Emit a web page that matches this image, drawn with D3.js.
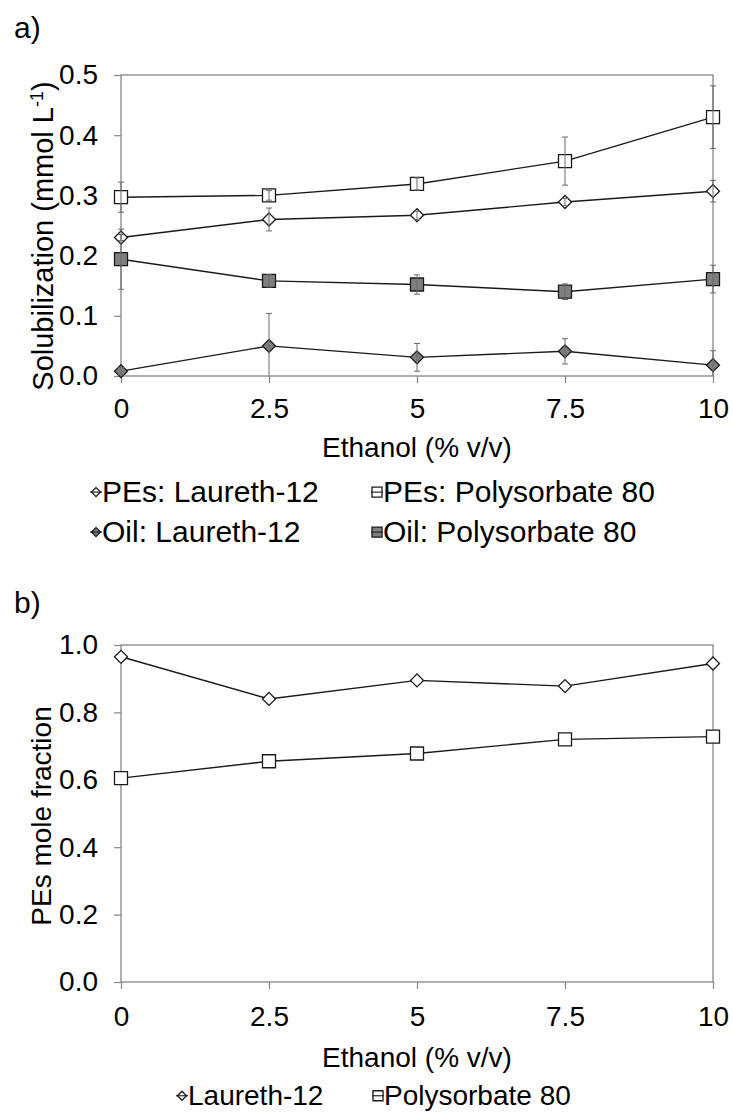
<!DOCTYPE html>
<html>
<head>
<meta charset="utf-8">
<script src="https://cdn.jsdelivr.net/npm/d3@7"></script>
<style>
body { margin: 0; background: #fff; }
text { font-family: Arial, "Liberation Sans", sans-serif; fill: #000; }
</style>
</head>
<body>
<script>
// page size
var width = 733,
	height = 1113;

// x values and tick labels (shared by both panels)
var ethanol = [0, 2.5, 5, 7.5, 10];
var xTickLabels = ["0", "2.5", "5", "7.5", "10"];

// panel a: solubilization (mmol/L) with error bars
var pesLaureth = [0.230, 0.260, 0.267, 0.289, 0.307];
var pesLaurethErr = [0.005, 0.019, 0.007, 0.006, 0.018];
var pesPolysorbate = [0.297, 0.300, 0.319, 0.357, 0.430];
var pesPolysorbateErr = [0.025, 0.008, 0.010, 0.040, 0.052];
var oilLaureth = [0.008, 0.050, 0.031, 0.041, 0.018];
var oilLaurethErr = [0.006, 0.054, 0.023, 0.021, 0.024];
var oilPolysorbate = [0.194, 0.158, 0.152, 0.140, 0.161];
var oilPolysorbateErr = [0.050, 0.010, 0.016, 0.013, 0.023];
var yTicksA = [0, 0.1, 0.2, 0.3, 0.4, 0.5];

// panel b: PEs mole fraction
var fracLaureth = [0.965, 0.840, 0.895, 0.878, 0.945];
var fracPolysorbate = [0.605, 0.655, 0.678, 0.720, 0.728];
var yTicksB = [0, 0.2, 0.4, 0.6, 0.8, 1.0];

var frameColor = '#868686',
	lineColor = '#1a1a1a',
	fillGray = '#7f7f7f',
	errColor = '#6a6a6a';

var svg = d3.select('body')
	.append('svg')
	.attr('width', width)
	.attr('height', height);

// shared x scale
var x = d3.scaleLinear().domain([0, 10]).range([121, 713]);

function marker(g, shape, cx, cy, size, filled) {
	// diamond is a square turned 45 degrees, same box as the square
	var side = shape === 'square' ? size : size / Math.SQRT2;
	g.append('path')
		.attr('d', d3.symbol().type(d3.symbolSquare).size(side * side)())
		.attr('transform', 'translate(' + cx + ',' + cy + ')' + (shape === 'diamond' ? ' rotate(45)' : ''))
		.attr('fill', filled ? fillGray : '#fff')
		.attr('stroke', lineColor)
		.attr('stroke-width', 1.3);
}

function drawPanel(p) {
	var y = d3.scaleLinear().domain(p.domain).range([p.bottom, p.top]);
	var g = svg.append('g');

	// panel letter
	g.append('text')
		.attr('x', 14).attr('y', p.letterY)
		.style('font-size', '30px')
		.text(p.letter);

	// axes, outward ticks
	var yAxis = g.append('g')
		.attr('transform', 'translate(' + x.range()[0] + ',0)')
		.call(d3.axisLeft(y).tickValues(p.yTicks).tickFormat(d3.format('.1f'))
			.tickSize(7).tickSizeOuter(0).tickPadding(16));
	var xAxis = g.append('g')
		.attr('transform', 'translate(0,' + p.bottom + ')')
		.call(d3.axisBottom(x).tickValues(ethanol)
			.tickFormat(function(d, i) { return xTickLabels[i]; })
			.tickSize(7).tickSizeOuter(0).tickPadding(p.xPad));
	[yAxis, xAxis].forEach(function(a) {
		a.select('.domain').remove();
		a.selectAll('line').attr('stroke', frameColor).attr('stroke-width', 1.2);
		a.selectAll('text').style('font-size', '28px').attr('fill', '#000');
	});

	// plot frame
	g.append('rect')
		.attr('x', x.range()[0]).attr('y', p.top)
		.attr('width', x.range()[1] - x.range()[0])
		.attr('height', p.bottom - p.top)
		.attr('fill', 'none')
		.attr('stroke', frameColor)
		.attr('stroke-width', 1.3);

	// axis titles
	g.append('text')
		.attr('x', (x.range()[0] + x.range()[1]) / 2)
		.attr('y', p.xTitleY)
		.attr('text-anchor', 'middle')
		.style('font-size', '28px')
		.text('Ethanol (% v/v)');

	var yt = g.append('text')
		.attr('transform', 'translate(' + p.yTitleX + ',' + p.yTitleY + ') rotate(-90)')
		.attr('text-anchor', 'middle')
		.style('font-size', p.yTitleSize);
	p.yTitle(yt);

	var line = d3.line()
		.x(function(d, i) { return x(ethanol[i]); })
		.y(function(d) { return y(d); });

	p.series.forEach(function(s) {
		g.append('path')
			.attr('d', line(s.values))
			.attr('fill', 'none')
			.attr('stroke', lineColor)
			.attr('stroke-width', 1.4);
	});

	p.series.forEach(function(s) {
		s.values.forEach(function(v, i) {
			marker(g, s.shape, x(ethanol[i]), y(v), 13, s.filled);
		});
	});

	// error bars on top of the markers
	p.series.forEach(function(s) {
		if (!s.err) return;
		s.values.forEach(function(v, i) {
			var cx = x(ethanol[i]);
			var hi = v + s.err[i], lo = Math.max(p.domain[0], v - s.err[i]);
			g.append('line')
				.attr('x1', cx).attr('x2', cx)
				.attr('y1', y(hi)).attr('y2', y(lo))
				.attr('stroke', errColor).attr('stroke-width', 1);
			[hi, v - s.err[i]].forEach(function(e) {
				if (e < p.domain[0]) return;
				g.append('line')
					.attr('x1', cx - 3).attr('x2', cx + 3)
					.attr('y1', y(e)).attr('y2', y(e))
					.attr('stroke', errColor).attr('stroke-width', 1);
			});
		});
	});

	// legend: small marker crossed by a short line, then the label
	p.legend.forEach(function(l) {
		var s = p.series[l.index];
		var my = l.y - p.legendSize * 0.33;
		marker(g, s.shape, l.x, my, s.shape === 'square' ? 10 : 9, s.filled);
		g.append('line')
			.attr('x1', l.x - 6).attr('x2', l.x + 6)
			.attr('y1', my).attr('y2', my)
			.attr('stroke', lineColor).attr('stroke-width', 1.1);
		g.append('text')
			.attr('x', l.x + 6).attr('y', l.y)
			.style('font-size', p.legendSize + 'px')
			.text(s.name);
	});
}

drawPanel({
	letter: 'a)', letterY: 38,
	domain: [0, 0.5], top: 75, bottom: 376, yTicks: yTicksA, xPad: 15,
	xTitleY: 457, yTitleX: 53, yTitleY: 236, yTitleSize: '29px',
	yTitle: function(t) {
		t.append('tspan').text('Solubilization  (mmol L');
		t.append('tspan').attr('dy', -10).style('font-size', '18px').text('-1');
		t.append('tspan').attr('dy', 10).text(')');
	},
	series: [
		{ name: 'PEs: Laureth-12', values: pesLaureth, err: pesLaurethErr, shape: 'diamond', filled: false },
		{ name: 'PEs: Polysorbate 80', values: pesPolysorbate, err: pesPolysorbateErr, shape: 'square', filled: false },
		{ name: 'Oil: Laureth-12', values: oilLaureth, err: oilLaurethErr, shape: 'diamond', filled: true },
		{ name: 'Oil: Polysorbate 80', values: oilPolysorbate, err: oilPolysorbateErr, shape: 'square', filled: true }
	],
	legendSize: 30,
	legend: [
		{ index: 0, x: 96, y: 502 },
		{ index: 1, x: 377, y: 502 },
		{ index: 2, x: 96, y: 542 },
		{ index: 3, x: 377, y: 542 }
	]
});

drawPanel({
	letter: 'b)', letterY: 613,
	domain: [0, 1], top: 645, bottom: 982, yTicks: yTicksB, xPad: 17,
	xTitleY: 1067, yTitleX: 51, yTitleY: 816, yTitleSize: '28px',
	yTitle: function(t) { t.text('PEs mole fraction'); },
	series: [
		{ name: 'Laureth-12', values: fracLaureth, shape: 'diamond', filled: false },
		{ name: 'Polysorbate 80', values: fracPolysorbate, shape: 'square', filled: false }
	],
	legendSize: 28,
	legend: [
		{ index: 0, x: 182, y: 1105 },
		{ index: 1, x: 378, y: 1105 }
	]
});
</script>
</body>
</html>
